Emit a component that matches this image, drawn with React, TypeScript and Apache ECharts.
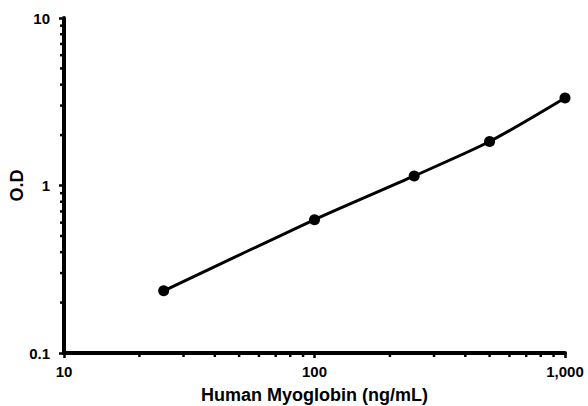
import React, { useEffect, useRef } from "react";
import * as echarts from "echarts";

const concentrations = [25, 100, 250, 500, 1000];
const odValues = [0.235, 0.625, 1.14, 1.83, 3.33];
const xMinorTicks = [20, 30, 40, 50, 60, 70, 80, 90, 200, 300, 400, 500, 600, 700, 800, 900];
const yMinorTicks = [0.2, 0.3, 0.4, 0.5, 0.6, 0.7, 0.8, 0.9, 2, 3, 4, 5, 6, 7, 8, 9];

const FONT = "Arial, 'Liberation Sans', sans-serif";

export default function App() {
  const ref = useRef<HTMLDivElement>(null);
  useEffect(() => {
    const chart = echarts.init(ref.current!, undefined, { renderer: "svg" });
    chart.setOption({
      animation: false,
      backgroundColor: "#ffffff",
      grid: { left: 64, right: 23, top: 18, bottom: 53, containLabel: false, outerBoundsMode: "none" },
      xAxis: {
        type: "log",
        logBase: 10,
        min: 10,
        max: 1000,
        name: "Human Myoglobin (ng/mL)",
        nameLocation: "middle",
        nameGap: 33,
        nameMoveOverlap: false,
        nameTextStyle: { fontFamily: FONT, fontWeight: "bold", fontSize: 18, color: "#000" },
        axisLine: { lineStyle: { color: "#000", width: 4 } },
        axisTick: { show: true, length: 5, lineStyle: { color: "#000", width: 2.5 } },
        axisLabel: {
          fontFamily: FONT,
          fontWeight: "bold",
          fontSize: 15,
          color: "#000",
          margin: 11,
          formatter: (v: number) => Math.round(v).toLocaleString("en-US"),
        },
        splitLine: { show: false },
      },
      yAxis: {
        type: "log",
        logBase: 10,
        min: 0.1,
        max: 10,
        name: "O.D",
        nameLocation: "middle",
        nameGap: 38,
        nameMoveOverlap: false,
        nameRotate: 90,
        nameTextStyle: { fontFamily: FONT, fontWeight: "bold", fontSize: 18, color: "#000" },
        axisLine: { show: true, lineStyle: { color: "#000", width: 4 } },
        axisTick: { show: true, length: 5, lineStyle: { color: "#000", width: 2.5 } },
        axisLabel: {
          fontFamily: FONT,
          fontWeight: "bold",
          fontSize: 15,
          color: "#000",
          margin: 14,
          formatter: (v: number) => (v < 1 ? v.toFixed(1) : String(Math.round(v))),
        },
        splitLine: { show: false },
      },
      series: [
        {
          type: "line",
          data: concentrations.map((c, i) => [c, odValues[i]]),
          smooth: 0.25,
          symbol: "circle",
          symbolSize: 11,
          itemStyle: { color: "#000" },
          lineStyle: { color: "#000", width: 3 },
        },
        {
          type: "custom",
          clip: false,
          silent: true,
          data: xMinorTicks.map((v) => [v, 0.1]),
          renderItem: (params: any, api: any) => {
            const p = api.coord([api.value(0), api.value(1)]);
            return {
              type: "line",
              shape: { x1: p[0], y1: p[1], x2: p[0], y2: p[1] + 4 },
              style: { stroke: "#000", lineWidth: 2.5 },
            };
          },
        },
        {
          type: "custom",
          clip: false,
          silent: true,
          data: yMinorTicks.map((v) => [10, v]),
          renderItem: (params: any, api: any) => {
            const p = api.coord([api.value(0), api.value(1)]);
            return {
              type: "line",
              shape: { x1: p[0], y1: p[1], x2: p[0] - 4, y2: p[1] },
              style: { stroke: "#000", lineWidth: 2.5 },
            };
          },
        },
      ],
    });
    return () => chart.dispose();
  }, []);
  return <div ref={ref} style={{ width: 588, height: 406, position: "absolute", left: 0, top: 0 }} />;
}
